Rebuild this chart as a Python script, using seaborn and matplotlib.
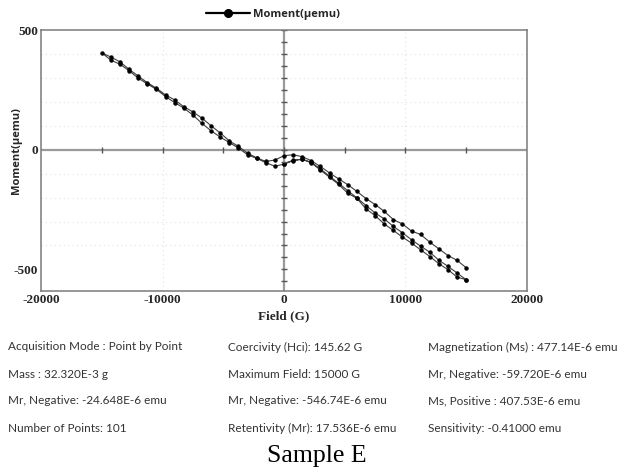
import numpy as np
import pandas as pd
import matplotlib
matplotlib.use("Agg")
import matplotlib.pyplot as plt
import seaborn as sns
from matplotlib.ticker import MultipleLocator

# ---- data ----
field_initial = [0, 750, 1500, 2250, 3000, 3750, 4500, 5250, 6000, 6750, 7500,
                 8250, 9000, 9750, 10500, 11250, 12000, 12750, 13500, 14250, 15000]
moment_initial = [-58, -44, -40, -55, -85, -115, -145, -182, -203, -247, -275,
                  -310, -337, -365, -390, -418, -446, -476, -501, -532, -543]

field_desc = [15000, 14250, 13500, 12750, 12000, 11250, 10500, 9750, 9000, 8250,
              7500, 6750, 6000, 5250, 4500, 3750, 3000, 2250, 1500, 750, 0,
              -750, -1500, -2250, -3000, -3750, -4500, -5250, -6000, -6750,
              -7500, -8250, -9000, -9750, -10500, -11250, -12000, -12750,
              -13500, -14250, -15000]
moment_desc = [-543, -515, -487, -462, -428, -403, -376, -347, -320, -289,
               -264, -233, -201, -171, -140, -111, -80, -53, -39, -46, -60,
               -69, -54, -36, -21, 7, 30, 53, 79, 110,
               145, 174, 197, 222, 252, 275, 299, 330,
               357, 374, 405]

field_asc = [-14250, -13500, -12750, -12000, -11250, -10500, -9750, -9000,
             -8250, -7500, -6750, -6000, -5250, -4500, -3750, -3000, -2250,
             -1500, -750, 0, 750, 1500, 2250, 3000, 3750, 4500, 5250, 6000,
             6750, 7500, 8250, 9000, 9750, 10500, 11250, 12000, 12750, 13500,
             14250, 15000]
moment_asc = [387, 367, 336, 308, 280, 257, 229, 208,
              180, 158, 132, 100, 70, 37, 14, -14, -34,
              -49, -43, -25, -21, -29, -46, -70, -97, -122, -146, -174,
              -204, -229, -257, -292, -310, -340, -354, -386, -414, -442,
              -462, -493]

x_ticks = [-20000, -10000, 0, 10000, 20000]
y_ticks = [-500, 0, 500]
table_rows = [
    ["Acquisition Mode : Point by Point", "Coercivity (Hci): 145.62 G", "Magnetization (Ms) : 477.14E-6 emu"],
    ["Mass : 32.320E-3 g", "Maximum Field: 15000 G", "Mr, Negative: -59.720E-6 emu"],
    ["Mr, Negative: -24.648E-6 emu", "Mr, Negative: -546.74E-6 emu", "Ms, Positive : 407.53E-6 emu"],
    ["Number of Points: 101", "Retentivity (Mr): 17.536E-6 emu", "Sensitivity: -0.41000 emu"],
]
series_name = "Moment(μemu)"
caption = "Sample E"

df = pd.DataFrame({
    "Field": field_initial + field_desc + field_asc,
    "Moment": moment_initial + moment_desc + moment_asc,
})

sns.set_style("white")
plt.rcParams["font.family"] = ["DejaVu Sans"]
plt.rcParams["axes.unicode_minus"] = False

fig = plt.figure(figsize=(6.33, 4.75), dpi=100)
ax = fig.add_axes([0.0648, 0.3874, 0.7677, 0.5494])

sns.lineplot(data=df, x="Field", y="Moment", sort=False, estimator=None,
             color="#404040", lw=0.8, marker="o", markersize=2.4,
             markerfacecolor="black", markeredgecolor="black",
             ax=ax, legend=False)

ax.set_xlim(-20000, 20000)
ax.set_ylim(-590, 500)
ax.set_xticks(x_ticks)
ax.set_yticks(y_ticks)
ax.xaxis.set_minor_locator(MultipleLocator(10000))
ax.yaxis.set_minor_locator(MultipleLocator(100))
ax.tick_params(which="both", length=0, pad=2)
for lab in ax.get_xticklabels() + ax.get_yticklabels():
    lab.set_fontfamily("Liberation Serif")
    lab.set_fontweight("bold")
    lab.set_fontsize(9.5)

ax.grid(True, which="minor", axis="y", linestyle=(0, (1, 3)), color="#e2e2e2", lw=0.8)
ax.grid(True, which="major", axis="x", linestyle=(0, (1, 3)), color="#e2e2e2", lw=0.8)
ax.grid(False, which="major", axis="y")

for s in ax.spines.values():
    s.set_color("#7a7a7a")
    s.set_linewidth(1.1)
    s.set_visible(True)

# zero cross-hair lines with their own ticks
ax.axhline(0, color="#9a9a9a", lw=1.6, zorder=1)
ax.axvline(0, color="#9a9a9a", lw=1.6, zorder=1)
xt = np.arange(-15000, 15001, 5000)
ax.plot(xt, np.zeros_like(xt), ls="none", marker="|", ms=4, color="#555", mew=1, zorder=2)
yt = np.arange(-550, 501, 50)
ax.plot(np.zeros_like(yt), yt, ls="none", marker="_", ms=4, color="#555", mew=1, zorder=2)

ax.set_xlabel("Field (G)", fontfamily="Liberation Serif", fontweight="bold", fontsize=9.5, labelpad=3)
ax.set_ylabel(series_name, fontfamily="Open Sans", fontweight="bold", fontsize=8)
ax.yaxis.set_label_coords(-19 / 486, 0.54)

# legend at top
handle, = ax.plot([], [], color="black", lw=1.6, marker="o", ms=5.5)
fig.legend([handle], [series_name], loc="center", bbox_to_anchor=(273 / 633, 1 - 14 / 475),
           frameon=False, handlelength=4.0, handletextpad=0.3,
           prop={"family": "Open Sans", "weight": "bold", "size": 8})

# parameters table
col_x = [8 / 633, 228 / 633, 428 / 633]
row_y = [1 - 347 / 475, 1 - 374 / 475, 1 - 401 / 475, 1 - 428 / 475]
for r, row in enumerate(table_rows):
    for c, txt in enumerate(row):
        fig.text(col_x[c], row_y[r], txt, ha="left", va="center",
                 fontfamily="Lato", fontsize=8.5, color="#333333")

fig.text(0.5, 1 - 456 / 475, caption, ha="center", va="center",
         fontfamily="Liberation Serif", fontsize=18.5, color="black")

fig.savefig("out.png", dpi=100)
